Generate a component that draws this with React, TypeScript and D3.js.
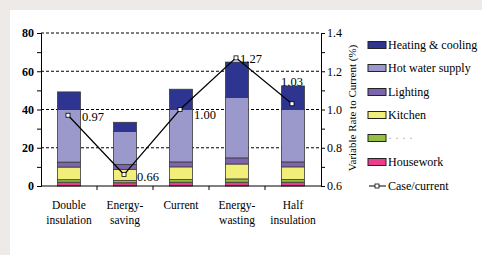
import React, { useEffect, useRef } from 'react';
import * as d3 from 'd3';

const categories = ['Double insulation', 'Energy-saving', 'Current', 'Energy-wasting', 'Half insulation'];
const categoryLines = [['Double', 'insulation'], ['Energy-', 'saving'], ['Current'], ['Energy-', 'wasting'], ['Half', 'insulation']];

// stacked from bottom up
const housework = [2.0, 1.7, 2.0, 2.0, 2.0];
const others = [1.3, 1.2, 1.4, 1.7, 1.4];
const kitchen = [6.6, 5.8, 6.6, 7.8, 6.6];
const lighting = [2.6, 2.6, 2.6, 3.2, 2.6];
const hotWater = [27.5, 17.2, 27.5, 31.6, 27.5];
const heating = [9.2, 4.8, 10.5, 18.5, 12.2];
const caseRate = [0.97, 0.66, 1.0, 1.27, 1.03];

const leftTicks = [0, 20, 40, 60, 80];
const rightTicks = [0.6, 0.8, 1.0, 1.2, 1.4];

const series = [
  { name: 'Housework', values: housework, color: '#e83e8c' },
  { name: '· · ·  ·', values: others, color: '#93c13e' },
  { name: 'Kitchen', values: kitchen, color: '#f2ee7a' },
  { name: 'Lighting', values: lighting, color: '#7d65ad' },
  { name: 'Hot water supply', values: hotWater, color: '#9b99cc' },
  { name: 'Heating & cooling', values: heating, color: '#2e3590' },
];

const App: React.FC = () => {
  const svgRef = useRef<SVGSVGElement>(null);

  useEffect(() => {
    if (!svgRef.current) return;
    const svg = d3.select(svgRef.current);
    svg.selectAll('*').remove();

    const W = 482;
    const H = 255;
    const margin = { top: 33, left: 41, right: 321, bottom: 186 };
    const font = "'Liberation Serif', 'Times New Roman', serif";

    // background
    svg.append('rect').attr('width', W).attr('height', H).attr('fill', '#eeeae8');
    svg.append('rect').attr('x', 10).attr('y', 10).attr('width', W - 10).attr('height', H - 10).attr('fill', '#fff');

    const x = d3.scaleBand().domain(categories).range([margin.left, margin.right]);
    const y = d3.scaleLinear().domain([0, 80]).range([margin.bottom, margin.top]);
    const y2 = d3.scaleLinear().domain([0.6, 1.4]).range([margin.bottom, margin.top]);

    // gridlines
    svg.append('g')
      .selectAll('line')
      .data(leftTicks.filter(d => d > 0))
      .enter()
      .append('line')
      .attr('x1', margin.left)
      .attr('x2', margin.right)
      .attr('y1', d => y(d))
      .attr('y2', d => y(d))
      .attr('stroke', '#000')
      .attr('stroke-width', 1)
      .attr('stroke-dasharray', '3,2');

    // stacked bars
    const barW = 23;
    const g = svg.append('g');
    categories.forEach((c, i) => {
      let base = 0;
      series.forEach(s => {
        const v = s.values[i];
        g.append('rect')
          .attr('x', (x(c) as number) + x.bandwidth() / 2 - barW / 2)
          .attr('y', y(base + v))
          .attr('width', barW)
          .attr('height', y(base) - y(base + v))
          .attr('fill', s.color)
          .attr('stroke', '#3a3a3a')
          .attr('stroke-width', 0.8);
        base += v;
      });
    });

    // left axis
    const leftAxis = svg.append('g')
      .attr('transform', `translate(${margin.left},0)`)
      .call(d3.axisLeft(y).tickValues(d3.range(0, 81, 10)).tickSize(4).tickFormat(d => (leftTicks.includes(d as number) ? String(d) : '')));
    leftAxis.select('.domain').attr('stroke', '#000');
    leftAxis.selectAll('text').style('font-family', font).attr('font-size', 12).attr('fill', '#000').attr('font-weight', 'bold').attr('x', -7);

    // right axis
    const rightAxis = svg.append('g')
      .attr('transform', `translate(${margin.right},0)`)
      .call(d3.axisRight(y2).tickValues(d3.range(6, 15).map(v => v / 10)).tickSize(4)
        .tickFormat(d => (rightTicks.some(t => Math.abs(t - (d as number)) < 1e-6) ? d3.format('.1f')(d as number) : '')));
    rightAxis.select('.domain').attr('stroke', '#000');
    rightAxis.selectAll('text').style('font-family', font).attr('font-size', 12).attr('fill', '#000').attr('x', 6);

    // bottom axis
    svg.append('line')
      .attr('x1', margin.left).attr('x2', margin.right)
      .attr('y1', margin.bottom).attr('y2', margin.bottom)
      .attr('stroke', '#000');
    categories.slice(1).forEach(c => {
      svg.append('line')
        .attr('x1', x(c) as number).attr('x2', x(c) as number)
        .attr('y1', margin.bottom).attr('y2', margin.bottom + 4)
        .attr('stroke', '#000');
    });
    categories.forEach((c, i) => {
      const t = svg.append('text')
        .attr('x', (x(c) as number) + x.bandwidth() / 2)
        .attr('y', 209)
        .attr('text-anchor', 'middle')
        .style('font-family', font)
        .attr('font-size', 11.5);
      categoryLines[i].forEach((ln, j) => {
        t.append('tspan')
          .attr('x', (x(c) as number) + x.bandwidth() / 2)
          .attr('dy', j === 0 ? 0 : 15)
          .text(ln);
      });
    });

    // right axis title
    svg.append('text')
      .attr('transform', `translate(356,108) rotate(-90)`)
      .attr('text-anchor', 'middle')
      .style('font-family', font)
      .attr('font-size', 11)
      .text('Variable Rate to Current (%)');

    // case/current line
    const cx = (c: string) => (x(c) as number) + x.bandwidth() / 2 - 1;
    const line = d3.line<number>().x((_, i) => cx(categories[i])).y(d => y2(d));
    svg.append('path')
      .attr('d', line(caseRate))
      .attr('fill', 'none')
      .attr('stroke', '#000')
      .attr('stroke-width', 1.2);
    svg.selectAll('.pt')
      .data(caseRate)
      .enter()
      .append('rect')
      .attr('x', (_, i) => cx(categories[i]) - 2)
      .attr('y', d => y2(d) - 2)
      .attr('width', 4)
      .attr('height', 4)
      .attr('fill', '#fff')
      .attr('stroke', '#000')
      .attr('stroke-width', 0.8);

    const labelOffsets = [[14, 6], [13, 6], [14, 9], [4, 5], [0, -18]];
    caseRate.forEach((v, i) => {
      svg.append('text')
        .attr('x', cx(categories[i]) + labelOffsets[i][0])
        .attr('y', y2(v) + labelOffsets[i][1])
        .attr('text-anchor', i === 4 ? 'middle' : 'start')
        .style('font-family', font)
        .attr('font-size', 12.5)
        .text(d3.format('.2f')(v));
    });

    // legend
    const legendRows = [...series].reverse();
    const ly = [45, 68, 92, 115, 138, 162];
    legendRows.forEach((s, i) => {
      svg.append('rect')
        .attr('x', 368).attr('y', ly[i] - 3.5)
        .attr('width', 18).attr('height', 7)
        .attr('fill', s.color)
        .attr('stroke', '#222')
        .attr('stroke-width', 1);
      svg.append('text')
        .attr('x', 388).attr('y', ly[i] + 4)
        .style('font-family', font)
        .attr('font-size', 12)
        .attr('fill', i === 4 ? '#aaa' : '#000')
        .text(s.name);
    });
    svg.append('line')
      .attr('x1', 369).attr('x2', 386).attr('y1', 186).attr('y2', 186)
      .attr('stroke', '#000');
    svg.append('rect')
      .attr('x', 375).attr('y', 184).attr('width', 4).attr('height', 4)
      .attr('fill', '#fff').attr('stroke', '#000').attr('stroke-width', 0.8);
    svg.append('text')
      .attr('x', 388).attr('y', 190)
      .style('font-family', font)
      .attr('font-size', 12)
      .text('Case/current');
  }, []);

  return (
    <svg
      ref={svgRef}
      width={482}
      height={255}
      style={{ position: 'absolute', left: 0, top: 0, display: 'block' }}
    />
  );
};

export default App;
